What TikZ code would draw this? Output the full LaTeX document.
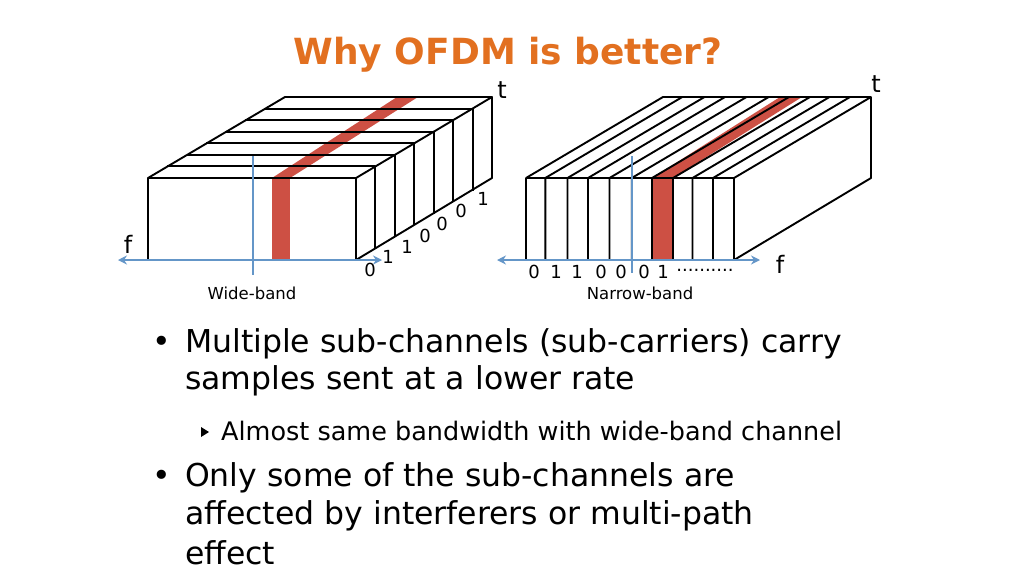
\documentclass[tikz,border=0pt]{standalone}
\usepackage{fontspec}
\setmainfont{DejaVu Sans}
\usetikzlibrary{arrows.meta}
\definecolor{ttl}{RGB}{226,112,32}
\definecolor{axb}{RGB}{100,150,200}
\definecolor{rstripe}{RGB}{205,80,68}
\begin{document}
\begin{tikzpicture}[x=1pt,y=-1pt,
  edge/.style={black,line width=1.9pt,line join=round},
  axis/.style={axb,line width=2pt,{Stealth[length=9pt,width=9pt]}-{Stealth[length=9pt,width=9pt]}},
  vline/.style={axb,line width=1.5pt},
  lbl/.style={font=\fontsize{16.5}{17}\selectfont,inner sep=0pt},
  bit/.style={font=\fontsize{18}{18}\selectfont,inner sep=0pt},
  body/.style={font=\fontsize{31.5}{37}\selectfont,inner sep=0pt,anchor=west},
  sub/.style={font=\fontsize{25.5}{28}\selectfont,inner sep=0pt,anchor=west}]
\useasboundingbox (0,0) rectangle (1024,576);
\node[font=\fontsize{36}{40}\selectfont\bfseries,text=ttl] (title) at (508,55) {Why OFDM is better?};
% ---------- left box ----------
\fill[white] (148,178) -- (285,97) -- (492,97) -- (492,178) -- (356,260) -- (148,260) -- cycle;
\fill[rstripe] (272,178) rectangle (290,260);
\fill[rstripe] (272,178) -- (397,97) -- (418,97) -- (290,178) -- cycle;
\draw[edge] (148,260) -- (148,178) -- (356,178) -- (356,260);
\draw[edge] (148,178) -- (285,97) -- (492,97) -- (356,178);
\draw[edge] (492,97) -- (492,178) -- (356,260);
\foreach \k in {1,...,6}{
  \pgfmathsetmacro{\dx}{136*\k/7}\pgfmathsetmacro{\dy}{81*\k/7}
  \draw[edge] (148+\dx,178-\dy) -- (356+\dx,178-\dy) -- (356+\dx,260-\dy);}
\draw[vline] (253,156) -- (253,275);
\draw[axis] (118,260) -- (382,260);
\node[font=\fontsize{24}{24}\selectfont] (fl) at (128,244) {f};
\node[font=\fontsize{24}{24}\selectfont] (tl) at (502,90) {t};
\node[lbl] (wb) at (252,293) {Wide-band};
\foreach \b/\x/\y in {0/370/270,1/388/257,1/407/247,0/425/236,0/442/224,0/461/211,1/483/199}
  \node[bit] at (\x,\y) {\b};
% ---------- right box ----------
\fill[white] (526,178) -- (663,97) -- (871,97) -- (871,178) -- (734,260) -- (526,260) -- cycle;
\fill[rstripe] (652,178) rectangle (673,260);
\fill[rstripe] (652,178) -- (780,97) -- (802,97) -- (673,178) -- cycle;
\draw[edge] (526,260) -- (526,178) -- (734,178) -- (734,260) -- (871,178) -- (871,97) -- (663,97) -- (526,178);
\draw[edge] (734,178) -- (871,97);
\foreach \x in {545.3,567.5,588,609.5,631.7,652,673,692.5,713}
  \draw[edge] (\x,260) -- (\x,178) -- (\x+137,97);
\draw[vline] (632,156) -- (632,273);
\draw[axis] (497,260) -- (760,260);
\node[font=\fontsize{24}{24}\selectfont] (fr) at (780,264) {f};
\node[font=\fontsize{24}{24}\selectfont] (tr) at (876,84) {t};
\node[lbl] (nb) at (640,293) {Narrow-band};
\foreach \b/\x in {0/534,1/556,1/577,0/601,0/621,0/644,1/663}
  \node[bit] at (\x,272) {\b};
\node[bit] (dots) at (705,270) {..........};
% ---------- text ----------
\node[body] (b1) at (152,344) {•};
\node[body] (t1) at (185,344) {Multiple sub-channels (sub-carriers) carry};
\node[body] (t2) at (185,381) {samples sent at a lower rate};
\fill (201,427) -- (209,432) -- (201,437) -- cycle;
\node[sub] (t3) at (221,431) {Almost same bandwidth with wide-band channel};
\node[body] (b3) at (152,478) {•};
\node[body] (t4) at (185,478) {Only some of the sub-channels are};
\node[body] (t5) at (185,516) {affected by interferers or multi-path};
\node[body] (t6) at (185,553) {effect};
\end{tikzpicture}
\end{document}
